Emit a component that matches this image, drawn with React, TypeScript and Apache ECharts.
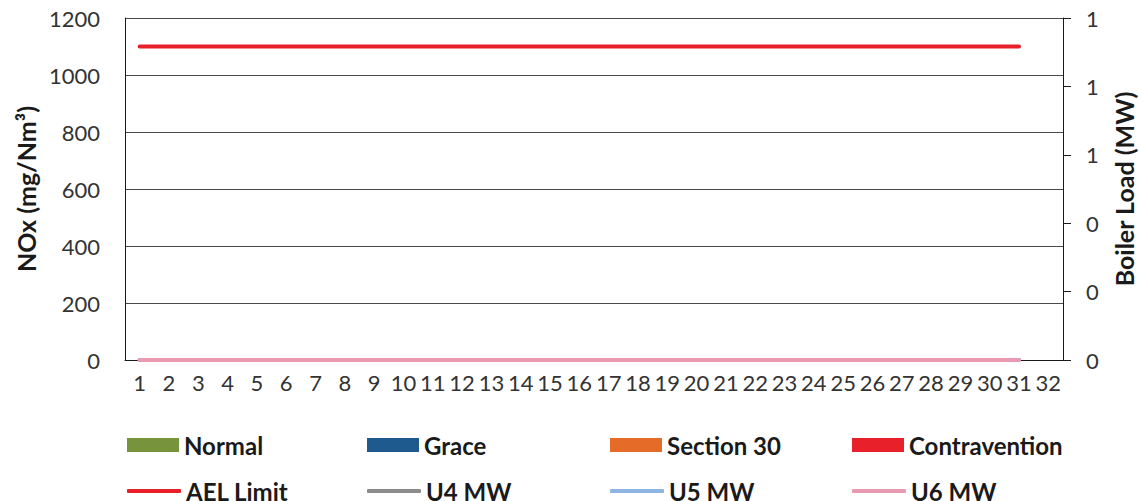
import React, { useEffect, useRef } from "react";
import * as echarts from "echarts";

const categories = Array.from({ length: 32 }, (_, i) => String(i + 1));
const normal = [0, 0, 0, 0, 0, 0, 0, 0, 0, 0, 0, 0, 0, 0, 0, 0, 0, 0, 0, 0, 0, 0, 0, 0, 0, 0, 0, 0, 0, 0, 0];
const grace = [0, 0, 0, 0, 0, 0, 0, 0, 0, 0, 0, 0, 0, 0, 0, 0, 0, 0, 0, 0, 0, 0, 0, 0, 0, 0, 0, 0, 0, 0, 0];
const section30 = [0, 0, 0, 0, 0, 0, 0, 0, 0, 0, 0, 0, 0, 0, 0, 0, 0, 0, 0, 0, 0, 0, 0, 0, 0, 0, 0, 0, 0, 0, 0];
const contravention = [0, 0, 0, 0, 0, 0, 0, 0, 0, 0, 0, 0, 0, 0, 0, 0, 0, 0, 0, 0, 0, 0, 0, 0, 0, 0, 0, 0, 0, 0, 0];
const aelLimit = [1100, 1100, 1100, 1100, 1100, 1100, 1100, 1100, 1100, 1100, 1100, 1100, 1100, 1100, 1100, 1100, 1100, 1100, 1100, 1100, 1100, 1100, 1100, 1100, 1100, 1100, 1100, 1100, 1100, 1100, 1100];
const u4 = [0, 0, 0, 0, 0, 0, 0, 0, 0, 0, 0, 0, 0, 0, 0, 0, 0, 0, 0, 0, 0, 0, 0, 0, 0, 0, 0, 0, 0, 0, 0];
const u5 = [0, 0, 0, 0, 0, 0, 0, 0, 0, 0, 0, 0, 0, 0, 0, 0, 0, 0, 0, 0, 0, 0, 0, 0, 0, 0, 0, 0, 0, 0, 0];
const u6 = [0, 0, 0, 0, 0, 0, 0, 0, 0, 0, 0, 0, 0, 0, 0, 0, 0, 0, 0, 0, 0, 0, 0, 0, 0, 0, 0, 0, 0, 0, 0];
const leftTicks = [0, 200, 400, 600, 800, 1000, 1200];

const FONT = "Lato";
const colors = {
  Normal: "#77933c",
  Grace: "#1f5a8f",
  "Section 30": "#e46c28",
  Contravention: "#e8202a",
  "AEL Limit": "#e8202a",
  "U4 MW": "#8c8c8c",
  "U5 MW": "#8db4e2",
  "U6 MW": "#e89ab0",
};

export default function App() {
  const ref = useRef<HTMLDivElement>(null);
  useEffect(() => {
    if (!ref.current) return;
    const chart = echarts.init(ref.current, null, { renderer: "svg" });
    const barSeries = (name: string, data: number[]) => ({
      name,
      type: "bar",
      stack: "nox",
      data,
      itemStyle: { color: (colors as any)[name] },
    });
    const lineSeries = (name: string, data: number[], yAxisIndex: number) => ({
      name,
      type: "line",
      data,
      yAxisIndex,
      symbol: "none",
      lineStyle: { color: (colors as any)[name], width: 4, cap: "round" },
      itemStyle: { color: (colors as any)[name] },
    });
    const legendText = {
      fontFamily: FONT,
      fontSize: 24,
      lineHeight: 20,
      fontWeight: "bold",
      color: "#1a1a1a",
      padding: [0, 0, 0, 0],
    };
    const cols = [127, 367, 610, 852];
    const row1 = ["Normal", "Grace", "Section 30", "Contravention"];
    const row2 = ["AEL Limit", "U4 MW", "U5 MW", "U6 MW"];
    const legends: any[] = [];
    row1.forEach((n, i) =>
      legends.push({
        data: [n],
        left: cols[i],
        top: 433,
        itemWidth: 52,
        itemHeight: 14,
        itemGap: 0,
        padding: 0,
        icon: "rect",
        textStyle: legendText,
        selectedMode: false,
      })
    );
    row2.forEach((n, i) =>
      legends.push({
        data: [{ name: n, icon: "roundRect" }],
        left: cols[i],
        top: 476,
        itemWidth: 54,
        itemHeight: 4,
        itemGap: 0,
        padding: [3, 0, 3, 0],
        textStyle: legendText,
        selectedMode: false,
      })
    );
    chart.setOption({
      animation: false,
      grid: { left: 125, right: 77, top: 18, bottom: 141, containLabel: false, outerBoundsMode: "none" },
      legend: legends,
      xAxis: {
        type: "category",
        data: categories,
        boundaryGap: true,
        axisLine: { lineStyle: { color: "#1a1a1a", width: 1 } },
        axisTick: { show: false },
        axisLabel: { fontFamily: FONT, fontSize: 22, color: "#333", margin: 11, interval: 0 },
      },
      yAxis: [
        {
          type: "value",
          min: leftTicks[0],
          max: leftTicks[leftTicks.length - 1],
          interval: leftTicks[1] - leftTicks[0],
          name: "NOx (mg/Nm³)",
          nameLocation: "middle",
          nameGap: 86,
          nameTextStyle: { fontFamily: FONT, fontSize: 25, fontWeight: "bold", color: "#1a1a1a" },
          axisLine: { show: true, lineStyle: { color: "#1a1a1a", width: 1 } },
          axisTick: { show: false },
          axisLabel: { fontFamily: FONT, fontSize: 22, color: "#333", margin: 25, formatter: (v: number) => String(v) },
          splitLine: { show: true, lineStyle: { color: "#4a4a4a", width: 1 } },
        },
        {
          type: "value",
          min: 0,
          max: 1,
          interval: 0.2,
          position: "right",
          name: "Boiler Load (MW)",
          nameLocation: "middle",
          nameGap: 48,
          nameRotate: 90,
          nameTextStyle: { fontFamily: FONT, fontSize: 25, fontWeight: "bold", color: "#1a1a1a" },
          axisLine: { show: true, lineStyle: { color: "#1a1a1a", width: 1 } },
          axisTick: { show: true, length: 8, lineStyle: { color: "#1a1a1a" } },
          axisLabel: {
            fontFamily: FONT,
            fontSize: 22,
            color: "#333",
            margin: 23,
            formatter: (v: number) => String(Math.round(v)),
          },
          splitLine: { show: false },
        },
      ],
      series: [
        barSeries("Normal", normal),
        barSeries("Grace", grace),
        barSeries("Section 30", section30),
        barSeries("Contravention", contravention),
        lineSeries("AEL Limit", aelLimit, 0),
        lineSeries("U4 MW", u4, 1),
        lineSeries("U5 MW", u5, 1),
        lineSeries("U6 MW", u6, 1),
      ],
    });
    return () => chart.dispose();
  }, []);
  return (
    <div
      ref={ref}
      style={{ position: "absolute", left: 0, top: 0, width: 1140, height: 501, background: "#fff" }}
    />
  );
}
